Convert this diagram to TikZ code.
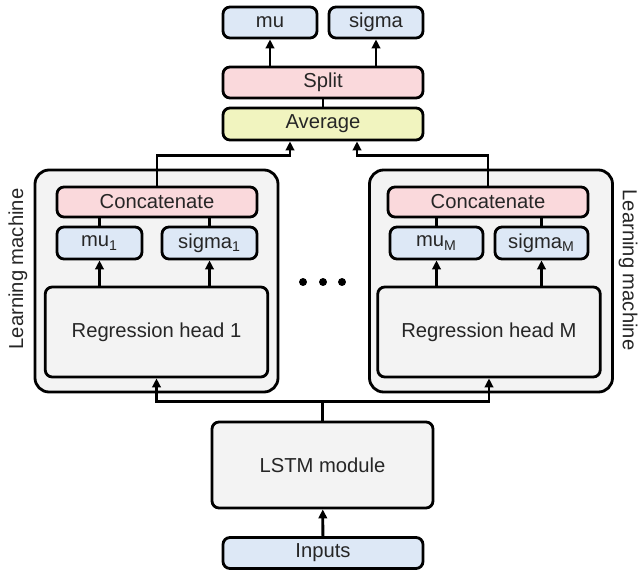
\documentclass[tikz,border=0pt]{standalone}
\usepackage{fontspec}
\setmainfont{Liberation Sans}
\usepackage{xcolor}
\usepackage{tikz}
\usetikzlibrary{arrows.meta,positioning,calc}
\definecolor{boxblue}{HTML}{DDE8F6}
\definecolor{boxpink}{HTML}{FAD9DC}
\definecolor{boxyellow}{HTML}{F1F4BF}
\definecolor{boxgray}{HTML}{F3F3F3}

\begin{document}
\begin{tikzpicture}[
    b/.style={draw,line width=1.6pt,rounded corners=4pt,inner sep=0pt,text=black!85,font=\fontsize{11.5}{13}\selectfont},
    sm/.style={b,minimum width=1.88cm,minimum height=0.62cm,fill=boxblue},
    wide/.style={b,minimum width=4cm,minimum height=0.62cm},
    big/.style={b,minimum width=4.45cm,minimum height=1.8cm,fill=boxgray},
    lm/.style={b,minimum width=4.86cm,minimum height=4.44cm,fill=boxgray,rounded corners=8pt},
    side/.style={text=black!85,font=\fontsize{11.5}{13}\selectfont},
    >={Triangle[length=1.8mm,width=1.7mm]},
    line width=1.6pt
  ]
    \useasboundingbox (0,0) rectangle (12.76,11.42);

    \node[b,wide,fill=boxblue] (inp) at (6.46,0.36) {Inputs};
    \node[big,minimum width=4.42cm,minimum height=1.72cm] (lstm) at (6.45,2.12) {LSTM module};

    % learning machines
    \node[lm] (lm1) at (3.13,5.80) {};
    \node[lm] (lmM) at (9.82,5.80) {};
    \node[side,rotate=90] (lab1) at (0.36,6.04) {Learning machine};
    \node[side,rotate=-90] (labM) at (12.56,6.02) {Learning machine};

    \node[big] (reg1) at (3.13,4.78) {Regression head 1};
    \node[sm,minimum width=1.7cm,minimum height=0.64cm] (mu1) at (1.99,6.56) {mu\textsubscript{1}};
    \node[sm,minimum width=1.9cm,minimum height=0.64cm] (sig1) at (4.19,6.56) {sigma\textsubscript{1}};
    \node[wide,minimum height=0.6cm,fill=boxpink] (cat1) at (3.14,7.38) {Concatenate};

    \node[big] (regM) at (9.78,4.78) {Regression head M};
    \node[sm,minimum width=1.86cm,minimum height=0.64cm] (muM) at (8.73,6.56) {mu\textsubscript{M}};
    \node[sm,minimum width=1.86cm,minimum height=0.64cm] (sigM) at (10.83,6.56) {sigma\textsubscript{M}};
    \node[wide,minimum height=0.6cm,fill=boxpink] (catM) at (9.76,7.38) {Concatenate};

    \node[circle,fill,inner sep=1.6pt] (d1) at (6.06,5.78) {};
    \node[circle,fill,inner sep=1.6pt] (d2) at (6.46,5.78) {};
    \node[circle,fill,inner sep=1.6pt] (d3) at (6.84,5.78) {};

    % top part
    \node[wide,minimum height=0.64cm,fill=boxyellow] (avg) at (6.46,8.94) {Average};
    \node[wide,fill=boxpink] (split) at (6.46,9.77) {Split};
    \node[sm] (mu) at (5.40,10.97) {mu};
    \node[sm] (sigma) at (7.52,10.97) {sigma};

    \coordinate (bus) at ($(lstm.north)+(0,0.38)$);
    \draw (lstm.north) -- (bus);
    \draw[->] (bus) -| (reg1.south);
    \draw[->] (bus) -| (regM.south);
    \draw[->] (inp) -- (lstm);

    \draw[->] (reg1.north -| mu1) -- (mu1);
    \draw[->] (reg1.north -| sig1) -- (sig1);
    \draw (mu1) -- (cat1.south -| mu1);
    \draw (sig1) -- (cat1.south -| sig1);
    \draw[->] (regM.north -| muM) -- (muM);
    \draw[->] (regM.north -| sigM) -- (sigM);
    \draw (muM) -- (catM.south -| muM);
    \draw (sigM) -- (catM.south -| sigM);

    \draw[->] (cat1.north) -- ++(0,0.6) -| ([xshift=-0.66cm]avg.south);
    \draw[->] (catM.north) -- ++(0,0.6) -| ([xshift=0.68cm]avg.south);
    \draw (avg) -- (split);
    \draw[->] (split.north -| mu) -- (mu);
    \draw[->] (split.north -| sigma) -- (sigma);
  \end{tikzpicture}
\end{document}
